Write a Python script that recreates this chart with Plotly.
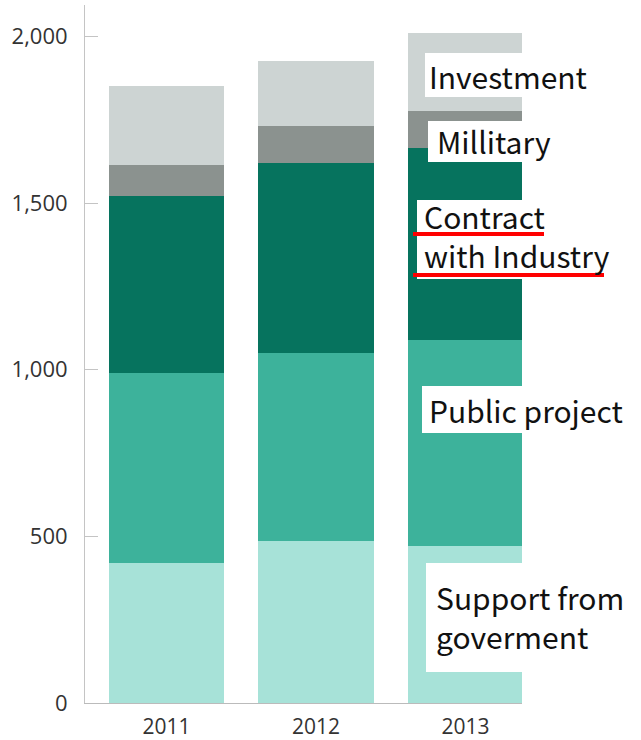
import plotly.graph_objects as go

years = ["2011", "2012", "2013"]
support = [420, 485, 470]
public = [570, 565, 620]
contract = [530, 570, 575]
military = [95, 112, 110]
investment = [235, 195, 235]

series = [
    ("Support from goverment", support, "#a7e2d8"),
    ("Public project", public, "#3db29b"),
    ("Contract with Industry", contract, "#06735e"),
    ("Millitary", military, "#8b928f"),
    ("Investment", investment, "#cdd4d3"),
]

W, H = 641, 740
L, R, T, B = 85, 119, 5, 37
PW, PH = W - L - R, H - T - B


def px(x):
    return (x - L) / PW


def py(y):
    return (H - B - y) / PH


fig = go.Figure()
for name, vals, col in series:
    fig.add_trace(go.Bar(x=years, y=vals, name=name, marker=dict(color=col, line=dict(width=0))))

# white label boxes (pixel rects)
boxes = [
    (425, 53, 592, 97),
    (428, 121, 548, 162),
    (417, 200, 608, 279),
    (422, 386, 626, 433),
    (426, 563, 626, 672),
]
shapes = []
for x0, y0, x1, y1 in boxes:
    shapes.append(dict(type="rect", xref="paper", yref="paper", x0=px(x0), x1=px(x1),
                       y0=py(y1), y1=py(y0), fillcolor="white", line=dict(width=0), layer="above"))
for x0, x1, y in [(413, 544, 234), (413, 604, 275)]:
    shapes.append(dict(type="line", xref="paper", yref="paper", x0=px(x0), x1=px(x1),
                       y0=py(y), y1=py(y), line=dict(color="#ff0000", width=4), layer="above"))

labels = [
    ("Investment", 427, 76),
    ("Millitary", 435, 141),
    ("Contract<br>with Industry", 422, 235),
    ("Public project", 427, 410),
    ("Support from<br>goverment", 434, 616),
]
annotations = []
for text, x, y in labels:
    annotations.append(dict(text=text, xref="paper", yref="paper", x=px(x), y=py(y),
                            xanchor="left", yanchor="middle", align="left", showarrow=False,
                            font=dict(family="Noto Sans CJK JP", size=30, color="#111")))

fig.update_layout(
    barmode="stack",
    bargap=0.227,
    width=W, height=H,
    margin=dict(l=L, r=R, t=T, b=B, pad=0, autoexpand=False),
    paper_bgcolor="white", plot_bgcolor="white",
    showlegend=False,
    shapes=shapes,
    annotations=annotations,
    font=dict(family="Open Sans", size=22, color="#333"),
)
fig.update_xaxes(range=[-0.545, 2.378], showline=True, linecolor="#bbbbbb", linewidth=1,
                 ticks="", showgrid=False, zeroline=False, ticklabelstandoff=5, automargin=False,
                 tickfont=dict(size=21, color="#333"))
fig.update_yaxes(range=[0, 2094], tickvals=[0, 500, 1000, 1500, 2000], tickformat=",",
                 showline=True, linecolor="#c4c4c4", linewidth=1, ticks="inside", ticklen=13,
                 tickcolor="#c4c4c4", showgrid=False, zeroline=False, ticklabelstandoff=12,
                 automargin=False, tickfont=dict(size=22, color="#333"))

fig.write_html("out.html", config={"displayModeBar": False},
               post_script="document.body.style.margin='0';document.body.style.overflow='hidden';")
